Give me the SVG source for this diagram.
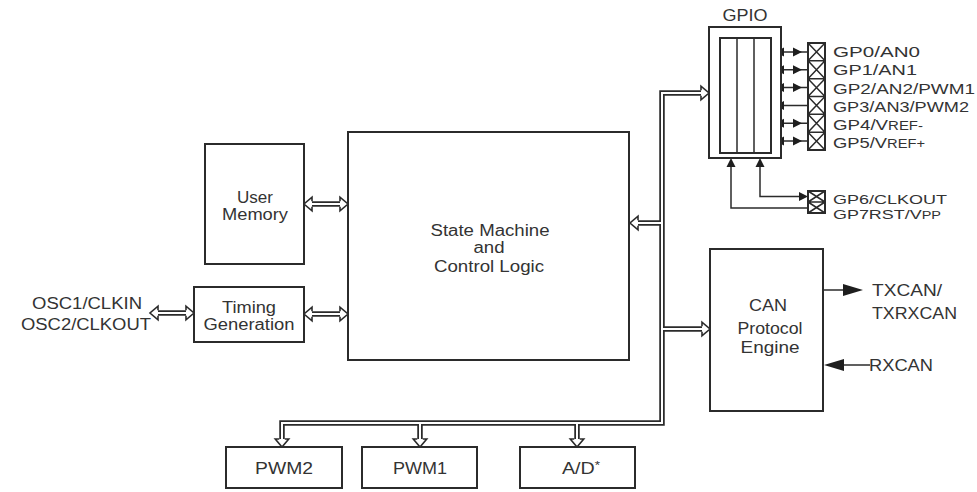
<svg xmlns="http://www.w3.org/2000/svg" width="977" height="492" viewBox="0 0 977 492">
<style>
  .box { fill: #ffffff; stroke: #2b2b2b; stroke-width: 2; }
  .thin { fill: none; stroke: #2b2b2b; stroke-width: 1.5; }
  .busd { fill: none; stroke: #2b2b2b; stroke-width: 5.5; stroke-linejoin: miter; }
  .busw { fill: none; stroke: #ffffff; stroke-width: 2; stroke-linejoin: miter; }
  .bh { fill: #ffffff; stroke: #2b2b2b; stroke-width: 1.6; stroke-linejoin: miter; }
  .ta { fill: #1e1e1e; stroke: none; }
  .wire { fill: none; stroke: #2b2b2b; stroke-width: 1.5; }
  text { font-family: "Liberation Sans", Arial, sans-serif; fill: #333333; }
  .lbl { font-size: 16px; text-anchor: middle; }
  .pin { font-size: 15px; }
  .pin2 { font-size: 13px; }
</style>
<defs>
  <path id="bh" class="bh" d="M-8,-2.75 L-8,-6.75 L0,0 L-8,6.75 L-8,2.75"/>
  <path id="ta" class="ta" d="M0,0 L-9,-4.5 L-9,4.5 Z"/>
  <path id="tb" class="ta" d="M0,0 L-20,-6 L-20,6 Z"/>
</defs>

<g id="connectors">
  <path class="busd" d="M701,93 H662 V423 H282 V439 M420,423 V439 M577,423 V439 M662,223 H638 M662,329 H702"/>
  <path class="busw" d="M701,93 H662 V423 H282 V439 M420,423 V439 M577,423 V439 M662,223 H638 M662,329 H702"/>
  <use href="#bh" transform="translate(709,93)"/>
  <use href="#bh" transform="translate(630,223) rotate(180)"/>
  <use href="#bh" transform="translate(710,329)"/>
  <use href="#bh" transform="translate(282,447) rotate(90)"/>
  <use href="#bh" transform="translate(420,447) rotate(90)"/>
  <use href="#bh" transform="translate(577,447) rotate(90)"/>

  <path class="busd" d="M312,204 H340"/>
  <path class="busw" d="M312,204 H340"/>
  <use href="#bh" transform="translate(304,204) rotate(180)"/>
  <use href="#bh" transform="translate(348,204)"/>

  <path class="busd" d="M312,314 H340"/>
  <path class="busw" d="M312,314 H340"/>
  <use href="#bh" transform="translate(304,314) rotate(180)"/>
  <use href="#bh" transform="translate(348,314)"/>

  <path class="busd" d="M158,313 H186"/>
  <path class="busw" d="M158,313 H186"/>
  <use href="#bh" transform="translate(150,313) rotate(180)"/>
  <use href="#bh" transform="translate(194,313)"/>

  <path class="wire" d="M771,52 H808 M771,69.8 H808 M771,87.6 H808 M771,105.4 H808 M771,123.3 H808 M771,141.1 H808"/>
  <use href="#ta" transform="translate(775,52) rotate(180)"/>
  <use href="#ta" transform="translate(802,52)"/>
  <use href="#ta" transform="translate(775,69.8) rotate(180)"/>
  <use href="#ta" transform="translate(802,69.8)"/>
  <use href="#ta" transform="translate(775,87.6) rotate(180)"/>
  <use href="#ta" transform="translate(802,87.6)"/>
  <use href="#ta" transform="translate(775,105.4) rotate(180)"/>
  <use href="#ta" transform="translate(775,123.3) rotate(180)"/>
  <use href="#ta" transform="translate(802,123.3)"/>
  <use href="#ta" transform="translate(775,141.1) rotate(180)"/>
  <use href="#ta" transform="translate(802,141.1)"/>

  <path class="wire" d="M760,166 V196.5 H799"/>
  <use href="#ta" transform="translate(760,158) rotate(-90)"/>
  <use href="#ta" transform="translate(808,196.5)"/>
  <path class="wire" d="M731,166 V208 H808"/>
  <use href="#ta" transform="translate(731,158) rotate(-90)"/>

  <path class="wire" d="M823,290 H845"/>
  <use href="#tb" transform="translate(863,290)"/>
  <path class="wire" d="M843,365 H870"/>
  <use href="#tb" transform="translate(824,365) rotate(180)"/>
</g>

<g id="main">
  <rect class="box" x="348" y="132" width="281" height="228"/>
  <text class="lbl" x="490" y="236" textLength="119" lengthAdjust="spacingAndGlyphs">State Machine</text>
  <text class="lbl" x="489" y="253" textLength="31" lengthAdjust="spacingAndGlyphs">and</text>
  <text class="lbl" x="489" y="271.5" textLength="110" lengthAdjust="spacingAndGlyphs">Control Logic</text>
</g>

<g id="user-memory">
  <rect class="box" x="205" y="144" width="99" height="120"/>
  <text class="lbl" x="255" y="202.5" textLength="36" lengthAdjust="spacingAndGlyphs">User</text>
  <text class="lbl" x="255" y="219.5" textLength="66" lengthAdjust="spacingAndGlyphs">Memory</text>
</g>

<g id="timing">
  <rect class="box" x="194" y="287" width="110" height="55"/>
  <text class="lbl" x="249" y="312.5" textLength="54" lengthAdjust="spacingAndGlyphs">Timing</text>
  <text class="lbl" x="249" y="329.5" textLength="91" lengthAdjust="spacingAndGlyphs">Generation</text>
</g>

<g id="osc">
  <text class="lbl" x="87" y="308.5" textLength="110" lengthAdjust="spacingAndGlyphs">OSC1/CLKIN</text>
  <text class="lbl" x="86" y="329.5" textLength="130" lengthAdjust="spacingAndGlyphs">OSC2/CLKOUT</text>
</g>

<g id="gpio">
  <text class="lbl" x="745" y="20.5" textLength="45" lengthAdjust="spacingAndGlyphs">GPIO</text>
  <rect class="box" x="709" y="27" width="72" height="131"/>
  <rect class="box" x="720" y="38" width="51" height="115"/>
  <path class="thin" d="M737,38 V153 M754,38 V153"/>
</g>

<g id="gpio-pins">
  <rect class="box" x="808" y="43" width="17" height="107"/>
  <path class="thin" d="M808,60.83 H825 M808,78.67 H825 M808,96.5 H825 M808,114.33 H825 M808,132.17 H825
    M808,43 L825,60.83 M825,43 L808,60.83
    M808,60.83 L825,78.67 M825,60.83 L808,78.67
    M808,78.67 L825,96.5 M825,78.67 L808,96.5
    M808,96.5 L825,114.33 M825,96.5 L808,114.33
    M808,114.33 L825,132.17 M825,114.33 L808,132.17
    M808,132.17 L825,150 M825,132.17 L808,150"/>
  <text class="pin" x="833" y="57" textLength="87" lengthAdjust="spacingAndGlyphs">GP0/AN0</text>
  <text class="pin" x="833" y="75" textLength="84" lengthAdjust="spacingAndGlyphs">GP1/AN1</text>
  <text class="pin" x="833" y="93.5" textLength="142" lengthAdjust="spacingAndGlyphs">GP2/AN2/PWM1</text>
  <text class="pin" x="833" y="112" textLength="136" lengthAdjust="spacingAndGlyphs">GP3/AN3/PWM2</text>
  <text class="pin" x="833" y="130" textLength="90" lengthAdjust="spacingAndGlyphs">GP4/V<tspan font-size="12">REF-</tspan></text>
  <text class="pin" x="833" y="147.5" textLength="92" lengthAdjust="spacingAndGlyphs">GP5/V<tspan font-size="12">REF+</tspan></text>
</g>

<g id="gpio-pins-2">
  <rect class="box" x="808" y="191" width="17" height="22"/>
  <path class="thin" d="M808,202 H825 M808,191 L825,202 M825,191 L808,202 M808,202 L825,213 M825,202 L808,213"/>
  <text class="pin2" x="833" y="203.5" textLength="114" lengthAdjust="spacingAndGlyphs">GP6/CLKOUT</text>
  <text class="pin2" x="833" y="218.5" textLength="108" lengthAdjust="spacingAndGlyphs">GP7RST/V<tspan font-size="10.5">PP</tspan></text>
</g>

<g id="can">
  <rect class="box" x="710" y="249" width="113" height="162"/>
  <text class="lbl" x="768" y="310.5" textLength="38" lengthAdjust="spacingAndGlyphs">CAN</text>
  <text class="lbl" x="770" y="333.5" textLength="65" lengthAdjust="spacingAndGlyphs">Protocol</text>
  <text class="lbl" x="770" y="353" textLength="59" lengthAdjust="spacingAndGlyphs">Engine</text>
</g>

<g id="can-pins">
  <text class="lbl" x="872" y="295.5" style="text-anchor:start" textLength="70" lengthAdjust="spacingAndGlyphs">TXCAN/</text>
  <text class="lbl" x="872" y="318.5" style="text-anchor:start" textLength="85" lengthAdjust="spacingAndGlyphs">TXRXCAN</text>
  <text class="lbl" x="869" y="370.5" style="text-anchor:start" textLength="64" lengthAdjust="spacingAndGlyphs">RXCAN</text>
</g>

<g id="pwm2">
  <rect class="box" x="226" y="447" width="116" height="41"/>
  <text class="lbl" x="284" y="473.5" textLength="58" lengthAdjust="spacingAndGlyphs">PWM2</text>
</g>
<g id="pwm1">
  <rect class="box" x="362" y="447" width="115" height="41"/>
  <text class="lbl" x="420" y="473.5" textLength="54" lengthAdjust="spacingAndGlyphs">PWM1</text>
</g>
<g id="ad">
  <rect class="box" x="520" y="447" width="115" height="41"/>
  <text class="lbl" x="581" y="473.5" textLength="38" lengthAdjust="spacingAndGlyphs">A/D<tspan font-size="11" dy="-5">*</tspan></text>
</g>
</svg>
